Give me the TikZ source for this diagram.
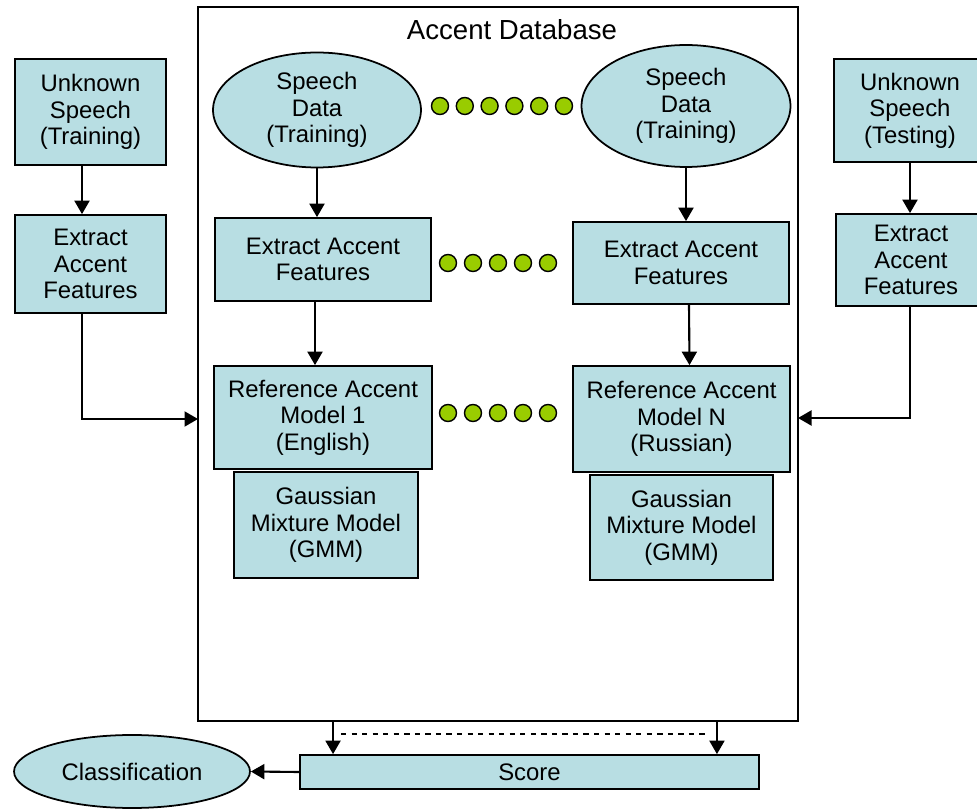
\documentclass[tikz,border=0pt]{standalone}
\usepackage{fontspec}
\setmainfont{Liberation Sans}
\usetikzlibrary{shapes.geometric,arrows.meta}
\definecolor{boxblue}{RGB}{184,222,227}
\definecolor{dotgreen}{RGB}{153,204,0}

\begin{document}
\begin{tikzpicture}[x=0.02cm,y=-0.02cm,
        every node/.style={font=\fontsize{13.6}{15}\selectfont,align=center},
        blk/.style={draw,line width=1pt,fill=boxblue,inner sep=0pt},
        oval/.style={blk,ellipse},
        gdot/.style={circle,draw,line width=0.8pt,fill=dotgreen,inner sep=0pt,minimum size=0.34cm},
        arr/.style={line width=1.2pt,-{Triangle[length=0.27cm,width=0.3cm]}}]
            \useasboundingbox (0,0) rectangle (977,810);

            % database frame
            \node (db) at (498,364) [draw,line width=1pt,fill=white,minimum width=12cm,minimum height=14.28cm] {};
            \node (title) at (512,30) [font=\fontsize{15.7}{17}\selectfont] {Accent Database};

            % outside, training side
            \node (unkTrain) at (90.5,112) [blk,minimum width=3.02cm,minimum height=2.12cm] {Unknown\\Speech\\(Training)};
            \node (extTrain) at (90.5,264) [blk,minimum width=3.02cm,minimum height=1.96cm] {Extract\\Accent\\Features};

            % outside, testing side
            \node (unkTest) at (910,110.5) [blk,minimum width=3.04cm,minimum height=2.06cm] {Unknown\\Speech\\(Testing)};
            \node (extTest) at (911,260) [blk,minimum width=3cm,minimum height=1.84cm] {Extract\\Accent\\Features};

            % inside the database
            \node (spL) at (317,110) [oval,minimum width=4.16cm,minimum height=2.3cm] {Speech\\Data\\(Training)};
            \node (spR) at (686,106) [oval,minimum width=4.18cm,minimum height=2.44cm] {Speech\\Data\\(Training)};
            \node (exL) at (323,259.5) [blk,minimum width=4.32cm,minimum height=1.66cm] {Extract Accent\\Features};
            \node (exR) at (681,263) [blk,minimum width=4.32cm,minimum height=1.64cm] {Extract Accent\\Features};
            \node (refL) at (323,417.5) [blk,minimum width=4.36cm,minimum height=2.06cm] {Reference Accent\\Model 1\\(English)};
            \node (refR) at (681.5,419) [blk,minimum width=4.34cm,minimum height=2.12cm] {Reference Accent\\Model N\\(Russian)};
            \node (gmmL) at (326,525) [blk,minimum width=3.68cm,minimum height=2.12cm] {Gaussian\\Mixture Model\\(GMM)};
            \node (gmmR) at (681.5,527.5) [blk,minimum width=3.66cm,minimum height=2.1cm] {Gaussian\\Mixture Model\\(GMM)};

            \foreach \i in {0,...,5}
                \node (dA\i) at (440+24.8*\i,106) [gdot] {};
            \foreach \i in {0,...,4}{
                \node (dB\i) at (448+25*\i,263) [gdot] {};
                \node (dC\i) at (448+25*\i,413) [gdot] {};
            }

            % bottom
            \node (score) at (529.5,772) [blk,minimum width=9.18cm,minimum height=0.68cm] {\raisebox{-4pt}{Score}};
            \node (cls) at (132,771.5) [oval,minimum width=4.72cm,minimum height=1.46cm] {Classification};

            \coordinate (inL) at (198,419);
            \coordinate (inR) at (798,418);
            \coordinate (dsL) at (341,734);
            \coordinate (dsR) at (709,734);

            \draw[arr] ([xshift=-0.17cm]unkTrain.south) -- ([xshift=-0.17cm]extTrain.north);
            \draw[arr] ([xshift=-0.17cm]extTrain.south) |- (inL);
            \draw[arr] (unkTest.south) -- (unkTest.south |- extTest.north);
            \draw[arr] ([xshift=-0.02cm]extTest.south) |- (inR);

            \draw[arr] (spL.south) -- (spL.south |- exL.north);
            \draw[arr] (spR.south) -- (spR.south |- exR.north);
            \draw[arr] ([xshift=-0.16cm]exL.south) -- ([xshift=-0.16cm]refL.north);
            \draw[arr] ([xshift=0.16cm]exR.south) -- ([xshift=0.16cm]refR.north);

            \draw[arr] ([xshift=-3.3cm]db.south) -- ([xshift=-3.3cm]db.south |- score.north);
            \draw[arr] ([xshift=4.38cm]db.south) -- ([xshift=4.38cm]db.south |- score.north);
            \draw[line width=1pt,dashed] (dsL) -- (dsR);
            \draw[arr] (score.west) -- (cls.east);
\end{tikzpicture}
\end{document}
